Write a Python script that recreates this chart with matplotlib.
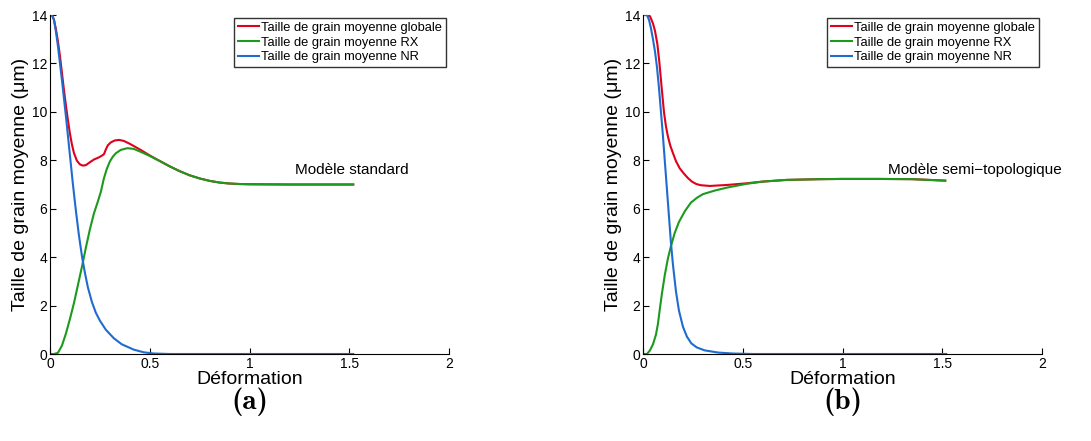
import matplotlib
matplotlib.use('Agg')
import matplotlib.pyplot as plt

plt.rcParams['font.family'] = ['Liberation Sans', 'DejaVu Sans']

# (a) modele standard
a_nr_x = [0.0, 0.01, 0.02, 0.03, 0.04, 0.05, 0.06, 0.07, 0.08, 0.09, 0.1, 0.115, 0.13, 0.145, 0.16,
          0.175, 0.19, 0.21, 0.23, 0.25, 0.28, 0.32, 0.36, 0.42, 0.47, 0.52, 0.6, 1.0, 1.52]
a_nr_y = [14.0, 14.0, 13.8, 13.3, 12.7, 12.0, 11.3, 10.55, 9.8, 9.0, 8.2, 7.0, 5.9, 4.9, 4.05,
          3.35, 2.75, 2.15, 1.7, 1.38, 1.0, 0.65, 0.4, 0.18, 0.07, 0.02, 0.0, 0.0, 0.0]

a_glob_x = [0.0, 0.01, 0.02, 0.03, 0.04, 0.05, 0.06, 0.07, 0.08, 0.09, 0.1, 0.11, 0.12, 0.135, 0.15,
            0.165, 0.18, 0.2, 0.22, 0.245, 0.262, 0.271, 0.28, 0.29, 0.305, 0.325, 0.347, 0.37, 0.4,
            0.45, 0.5, 0.55, 0.6, 0.65, 0.7, 0.75, 0.8, 0.85, 0.9, 0.95, 1.0, 1.2, 1.52]
a_glob_y = [14.0, 14.0, 13.8, 13.4, 12.9, 12.3, 11.6, 10.9, 10.25, 9.65, 9.1, 8.65, 8.3, 7.98, 7.83,
            7.78, 7.8, 7.92, 8.03, 8.12, 8.2, 8.26, 8.45, 8.62, 8.74, 8.82, 8.84, 8.8, 8.68,
            8.45, 8.2, 7.97, 7.75, 7.55, 7.38, 7.25, 7.15, 7.08, 7.04, 7.02, 7.01, 7.0, 7.0]

a_rx_x = [0.0, 0.02, 0.04, 0.06, 0.08, 0.1, 0.12, 0.14, 0.16, 0.18, 0.2, 0.22, 0.24, 0.255,
          0.27, 0.285, 0.3, 0.315, 0.33, 0.355, 0.388, 0.42, 0.46, 0.5, 0.523,
          0.55, 0.6, 0.65, 0.7, 0.75, 0.8, 0.85, 0.9, 0.95, 1.0, 1.2, 1.52]
a_rx_y = [0.0, 0.0, 0.05, 0.35, 0.85, 1.45, 2.1, 2.85, 3.6, 4.4, 5.15, 5.8, 6.3, 6.7,
          7.25, 7.65, 7.95, 8.15, 8.29, 8.43, 8.5, 8.47, 8.33, 8.18, 8.08,
          7.97, 7.75, 7.55, 7.38, 7.25, 7.15, 7.08, 7.04, 7.02, 7.01, 7.0, 7.0]

# (b) modele semi-topologique
b_nr_x = [0.0, 0.02, 0.03, 0.04, 0.05, 0.06, 0.07, 0.08, 0.09, 0.1, 0.11, 0.12, 0.13, 0.14, 0.15,
          0.165, 0.18, 0.2, 0.22, 0.242, 0.27, 0.309, 0.376, 0.45, 0.55, 1.0, 1.52]
b_nr_y = [14.0, 14.0, 13.8, 13.45, 13.0, 12.5, 11.85, 11.0, 10.0, 9.0, 7.9, 6.8, 5.7, 4.6, 3.7,
          2.6, 1.8, 1.13, 0.72, 0.44, 0.27, 0.15, 0.06, 0.02, 0.0, 0.0, 0.0]

b_glob_x = [0.0, 0.02, 0.035, 0.05, 0.06, 0.072, 0.082, 0.093, 0.105, 0.115, 0.125, 0.137, 0.15, 0.165,
            0.184, 0.205, 0.226, 0.245, 0.267, 0.29, 0.336, 0.376, 0.42, 0.52, 0.6, 0.72, 0.887, 1.0,
            1.18, 1.35, 1.515]
b_glob_y = [14.0, 14.0, 13.95, 13.65, 13.35, 12.8, 12.05, 11.05, 10.0, 9.4, 8.98, 8.6, 8.3, 7.97,
            7.67, 7.45, 7.26, 7.12, 7.02, 6.97, 6.94, 6.96, 6.98, 7.05, 7.12, 7.19, 7.22, 7.23,
            7.23, 7.22, 7.16]

b_rx_x = [0.0, 0.02, 0.035, 0.05, 0.065, 0.075, 0.085, 0.095, 0.109, 0.125, 0.14, 0.159, 0.18, 0.21,
          0.24, 0.27, 0.3, 0.36, 0.42, 0.52, 0.6, 0.72, 0.887, 1.0, 1.18, 1.35, 1.515]
b_rx_y = [0.0, 0.0, 0.15, 0.4, 0.8, 1.25, 1.9, 2.5, 3.25, 3.95, 4.45, 5.0, 5.45, 5.9,
          6.25, 6.45, 6.6, 6.75, 6.87, 7.03, 7.12, 7.19, 7.22, 7.23, 7.23, 7.22, 7.16]

labels = ['Taille de grain moyenne globale', 'Taille de grain moyenne RX', 'Taille de grain moyenne NR']
colors = ['#e0001b', '#1c9a1c', '#1f6cd0']

panels = [
    (a_glob_x, a_glob_y, a_rx_x, a_rx_y, a_nr_x, a_nr_y, 'Modèle standard', '(a)'),
    (b_glob_x, b_glob_y, b_rx_x, b_rx_y, b_nr_x, b_nr_y, 'Modèle semi\u2212topologique', '(b)'),
]
lefts = [50 / 1091, 643 / 1091]

fig = plt.figure(figsize=(10.91, 4.41), dpi=100)
for (gx, gy, rx, ry, nx, ny, name, tag), left in zip(panels, lefts):
    ax = fig.add_axes([left, 87 / 441, 399 / 1091, 339 / 441])
    ax.plot(gx, gy, color=colors[0], lw=1.5, label=labels[0])
    ax.plot(rx, ry, color=colors[1], lw=1.5, label=labels[1])
    ax.plot(nx, ny, color=colors[2], lw=1.5, label=labels[2])
    ax.set_xlim(0, 2)
    ax.set_ylim(0, 14)
    ax.set_xticks([0, 0.5, 1, 1.5, 2])
    ax.set_xticklabels(['0', '0.5', '1', '1.5', '2'])
    ax.set_yticks([0, 2, 4, 6, 8, 10, 12, 14])
    ax.spines['top'].set_visible(False)
    ax.spines['right'].set_visible(False)
    ax.tick_params(direction='in', length=4, labelsize=10, pad=2)
    ax.set_xlabel('Déformation', fontsize=14, labelpad=0)
    ax.set_ylabel('Taille de grain moyenne (μm)', fontsize=14, labelpad=2)
    ax.text(1.23, 7.6, name, fontsize=11, va='center')
    x1 = left + 396 / 1091
    ax.legend(loc='upper right', bbox_to_anchor=(x1, 1 - 18 / 441), bbox_transform=fig.transFigure,
              borderaxespad=0, fontsize=9.3, frameon=True, fancybox=False, edgecolor='black',
              handlelength=1.6, handletextpad=0.2, labelspacing=0.2, borderpad=0.3)
    ax.get_legend().get_frame().set_linewidth(1.0)
    fig.text(left + 200 / 1091, 1 - 402 / 441, tag, fontsize=21, family=['cmb10', 'DejaVu Serif'],
             fontweight='bold', ha='center', va='center')

fig.savefig('out.png', dpi=100)
